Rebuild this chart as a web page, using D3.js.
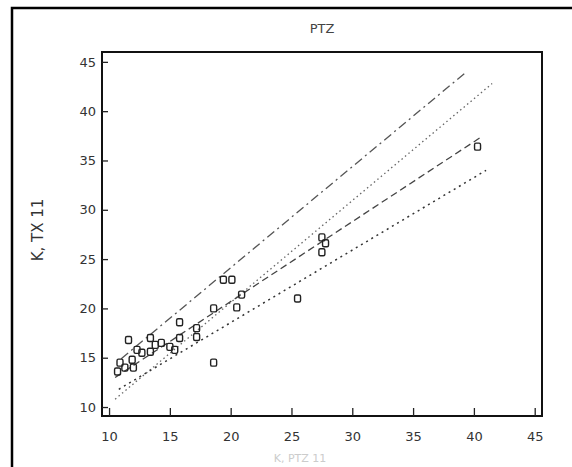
<!DOCTYPE html>
<html><head><meta charset="utf-8">
<script src="https://cdn.jsdelivr.net/npm/d3@7"></script>
<style>body{margin:0;background:#fff}svg{display:block}</style>
</head><body><svg id="c" width="572" height="467"></svg>
<script>
const title = "PTZ";
const yLabel = "K, TX 11";
const xLabel = "K, PTZ 11";
const xTicks = [10,15,20,25,30,35,40,45];
const yTicks = [10,15,20,25,30,35,40,45];
const ptX = [10.7,10.9,11.3,11.6,11.9,12.0,12.3,12.7,13.4,13.4,13.8,14.3,15.0,15.4,15.8,15.8,17.2,17.2,18.6,18.6,19.4,20.1,20.9,20.5,25.5,27.5,27.8,27.5,40.3];
const ptY = [13.6,14.5,14.0,16.8,14.8,14.0,15.8,15.5,17.0,15.6,16.3,16.5,16.1,15.8,18.6,17.0,18.0,17.1,14.5,20.0,22.9,22.9,21.4,20.1,21.0,27.2,26.6,25.7,36.4];
const lineUpper = [[11.0,14.9],[39.4,44.0]];
const lineOneToOne = [[10.5,10.8],[41.5,42.8]];
const lineFit = [[10.5,13.0],[40.5,37.3]];
const lineLower = [[10.8,11.8],[41.0,34.0]];

const svg = d3.select("#c");
const L=102,R=542,T=52,B=416;
const x = d3.scaleLinear().domain([9.42,45.6]).range([L,R]);
const y = d3.scaleLinear().domain([9.09,46.0]).range([B,T]);

svg.append("rect").attr("x",12).attr("y",8).attr("width",580).attr("height",480)
  .attr("fill","none").attr("stroke","#000").attr("stroke-width",2.5);

svg.append("text").attr("x",322).attr("y",33).attr("text-anchor","middle")
  .attr("font-family","DejaVu Sans").attr("font-size",13).attr("fill","#444").text(title);

const g = svg.append("g");
const lineGen = d3.line().x(d=>x(d[0])).y(d=>y(d[1]));
g.append("path").datum(lineOneToOne).attr("d",lineGen).attr("fill","none")
  .attr("stroke","#666").attr("stroke-width",1.3).attr("stroke-dasharray","1.5,3");
g.append("path").datum(lineUpper).attr("d",lineGen).attr("fill","none")
  .attr("stroke","#555").attr("stroke-width",1.3).attr("stroke-dasharray","9,4,2,4");
g.append("path").datum(lineFit).attr("d",lineGen).attr("fill","none")
  .attr("stroke","#444").attr("stroke-width",1.3).attr("stroke-dasharray","7,4");
g.append("path").datum(lineLower).attr("d",lineGen).attr("fill","none")
  .attr("stroke","#333").attr("stroke-width",1.5).attr("stroke-dasharray","2,4");

g.selectAll("rect.pt").data(ptX.map((v,i)=>[v,ptY[i]])).enter().append("rect")
  .attr("class","pt").attr("x",d=>x(d[0])-3).attr("y",d=>y(d[1])-3.5)
  .attr("width",6).attr("height",7).attr("rx",1.5)
  .attr("fill","none").attr("stroke","#222").attr("stroke-width",1.4);

svg.append("rect").attr("x",L).attr("y",T).attr("width",R-L).attr("height",B-T)
  .attr("fill","none").attr("stroke","#111").attr("stroke-width",2);

const xAxis = svg.append("g").attr("transform",`translate(0,${B})`)
  .call(d3.axisBottom(x).tickValues(xTicks).tickSize(-8).tickPadding(16).tickFormat(d3.format("d")));
const yAxis = svg.append("g").attr("transform",`translate(${L},0)`)
  .call(d3.axisLeft(y).tickValues(yTicks).tickSize(-6).tickPadding(6).tickFormat(d3.format("d")));
[xAxis,yAxis].forEach(a=>{
  a.select(".domain").remove();
  a.selectAll(".tick line").attr("stroke","#222").attr("stroke-width",1.3);
  a.selectAll(".tick text").attr("font-family","DejaVu Sans").attr("font-size",13).attr("fill","#333");
});

svg.append("text").attr("transform","translate(43,230) rotate(-90)").attr("text-anchor","middle")
  .attr("font-family","DejaVu Sans").attr("font-size",15).attr("fill","#333").text(yLabel);
svg.append("text").attr("x",300).attr("y",462).attr("text-anchor","middle")
  .attr("font-family","DejaVu Sans").attr("font-size",11).attr("fill","#ccc").text(xLabel);
</script></body></html>
